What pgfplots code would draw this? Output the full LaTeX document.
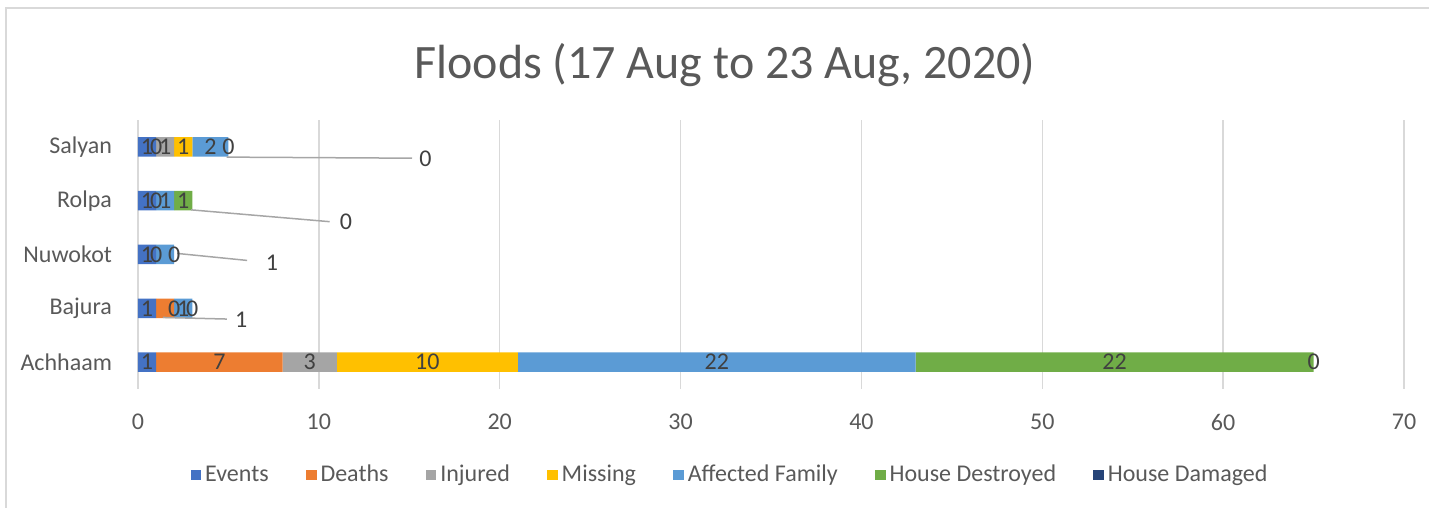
\documentclass[border=0pt]{standalone}
\usepackage{fontspec}
\setmainfont{Carlito}
\usepackage{pgfplots}
\usepackage{pgfplotstable}
\pgfplotsset{compat=1.18}
\definecolor{cEv}{HTML}{4472C4}
\definecolor{cDe}{HTML}{ED7D31}
\definecolor{cIn}{HTML}{A5A5A5}
\definecolor{cMi}{HTML}{FFC000}
\definecolor{cAf}{HTML}{5B9BD5}
\definecolor{cHd}{HTML}{70AD47}
\definecolor{cHm}{HTML}{264478}
\definecolor{gridc}{HTML}{D9D9D9}
\definecolor{tickc}{HTML}{595959}
\definecolor{labc}{HTML}{404040}
\definecolor{leadc}{HTML}{A6A6A6}
% series values: rows Achhaam, Bajura, Nuwokot, Rolpa, Salyan
\pgfplotstableread{
idx ev de in mi af hd hm
0 1 7 3 10 22 22 0
1 1 1 0 0 1 0 0
2 1 0 0 0 1 0 0
3 1 0 0 0 1 1 0
4 1 0 1 1 2 0 0
}\data
% data labels: centre of each segment, and labels moved out on leader lines
\pgfplotstableread{
cx cy lab
0.5 0 1
4.5 0 7
9.5 0 3
16 0 10
32 0 22
54 0 22
65 0 0
0.5 1 1
2 1 0
2.5 1 1
3 1 0
5.7 0.78 1
0.5 2 1
1 2 0
2 2 0
7.4 1.85 1
0.5 3 1
1 3 0
1.5 3 1
2.5 3 1
11.5 2.6 0
0.5 4 1
1 4 0
1.5 4 1
2.5 4 1
4 4 2
5 4 0
15.9 3.77 0
}\labels
\begin{document}
\begin{tikzpicture}
\draw[gridc, line width=0.75pt] (3pt,0) -- (3pt,250pt) -- (714.5pt,250pt);
\node[font=\fontsize{24}{29}\selectfont, text=tickc] at (362.5pt,221.5pt) {Floods (17 Aug to 23 Aug, 2020)};
\begin{axis}[
  at={(69pt,59.5pt)}, anchor=south west,
  scale only axis, width=633pt, height=134.5pt,
  xbar stacked, bar width=9.75pt,
  xmin=0, xmax=70, ymin=-0.5, ymax=4.5,
  xtick={0,10,...,70},
  ytick={0,1,2,3,4}, yticklabels={Achhaam,Bajura,Nuwokot,Rolpa,Salyan},
  xmajorgrids, grid style={draw=gridc, line width=0.75pt},
  axis line style={draw=none}, major tick length=0pt,
  /pgf/number format/assume math mode=true,
  tick label style={font=\fontsize{12}{14}\selectfont, text=tickc},
  xticklabel style={yshift=-9pt},
  yticklabel style={xshift=-9.5pt},
  legend style={at={(0.4685,-0.32)}, anchor=center, draw=none, fill=none,
     legend columns=-1, font=\fontsize{12}{14}\selectfont, text=tickc,
     /tikz/every even column/.append style={column sep=16.7pt}},
  legend image code/.code={\fill[#1, draw=none] (0pt,-2.6pt) rectangle (5.2pt,2.6pt);},
]
\addplot[fill=cEv, draw=none] table[x=ev, y=idx] {\data};
\addplot[fill=cDe, draw=none] table[x=de, y=idx] {\data};
\addplot[fill=cIn, draw=none] table[x=in, y=idx] {\data};
\addplot[fill=cMi, draw=none] table[x=mi, y=idx] {\data};
\addplot[fill=cAf, draw=none] table[x=af, y=idx] {\data};
\addplot[fill=cHd, draw=none] table[x=hd, y=idx] {\data};
\addplot[fill=cHm, draw=none] table[x=hm, y=idx] {\data};
\legend{Events,Deaths,Injured,Missing,Affected Family,House Destroyed,House Damaged}
\end{axis}
\begin{axis}[
  at={(69pt,59.5pt)}, anchor=south west,
  scale only axis, width=633pt, height=134.5pt,
  xmin=0, xmax=70, ymin=-0.5, ymax=4.5,
  hide axis, clip=false,
]
\draw[leadc, line width=0.75pt] (axis cs:4.9,3.81) -- (axis cs:15.15,3.79);
\draw[leadc, line width=0.75pt] (axis cs:2.93,2.83) -- (axis cs:10.6,2.61);
\draw[leadc, line width=0.75pt] (axis cs:2.16,2.02) -- (axis cs:6.03,1.89);
\draw[leadc, line width=0.75pt] (axis cs:1.38,0.83) -- (axis cs:4.92,0.8);
\addplot[only marks, mark=none, point meta=explicit symbolic,
  nodes near coords, nodes near coords align={center},
  every node near coord/.append style={anchor=center, font=\fontsize{12}{14}\selectfont, text=labc}]
  table[x=cx, y=cy, meta=lab] {\labels};
\end{axis}
\pgfresetboundingbox
\useasboundingbox (0,0) rectangle (714.5pt,254pt);
\end{tikzpicture}
\end{document}
